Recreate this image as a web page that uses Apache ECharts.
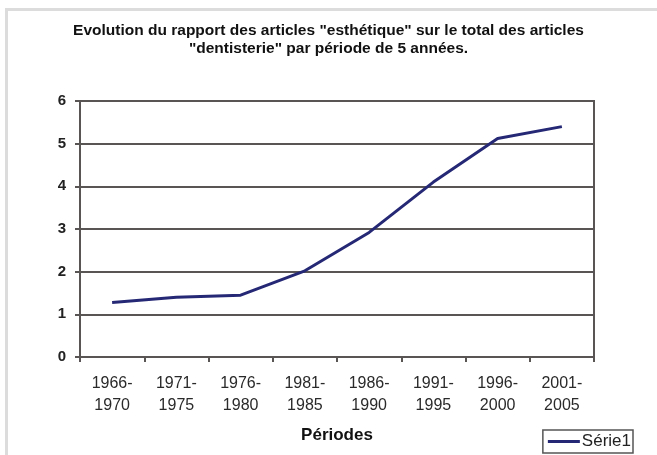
<!DOCTYPE html>
<html>
<head>
<meta charset="utf-8">
<script src="https://cdn.jsdelivr.net/npm/echarts@6/dist/echarts.min.js"></script>
<style>
    html, body { margin: 0; padding: 0; background: #fff; }
    #frame { position: absolute; left: 5px; top: 8px; width: 660px; height: 460px;
             border-left: 3px solid #dcdcdc; border-top: 3px solid #dcdcdc; }
    #chart { position: absolute; left: 0; top: 0; width: 657px; height: 455px; }
</style>
</head>
<body>
<div id="frame"></div>
<div id="chart"></div>
<script>
// périodes de 5 ans
var periodes = ['1966-\n1970', '1971-\n1975', '1976-\n1980', '1981-\n1985',
                '1986-\n1990', '1991-\n1995', '1996-\n2000', '2001-\n2005'];
// rapport esthétique / dentisterie
var serie1 = [1.28, 1.4, 1.45, 2.02, 2.92, 4.1, 5.12, 5.4];
var yTicks = [0, 1, 2, 3, 4, 5, 6];

var chart = echarts.init(document.getElementById('chart'));
chart.setOption({
    animation: false,
    title: {
        left: 'center',
        top: 17,
        text: 'Evolution du rapport des articles "esthétique" sur le total des articles\n"dentisterie" par période de 5 années.',
        textStyle: {
            fontFamily: 'Liberation Sans',
            fontSize: 15.5,
            fontWeight: 'bold',
            color: '#111',
            lineHeight: 18
        }
    },
    legend: {
        right: 24,
        bottom: 2,
        data: ['Série1'],
        icon: 'rect',
        itemWidth: 32,
        itemHeight: 3,
        itemGap: 2,
        padding: [3, 2, 3, 5],
        borderColor: '#555',
        borderWidth: 1.5,
        borderRadius: 0,
        textStyle: { fontFamily: 'Liberation Sans', fontSize: 17, color: '#222', padding: [0, 0, 0, -3] }
    },
    grid: {
        left: 80,
        right: 63,
        top: 101,
        bottom: 98,
        show: true,
        borderColor: '#5a5555',
        borderWidth: 2
    },
    xAxis: {
        type: 'category',
        data: periodes,
        boundaryGap: true,
        name: 'Périodes',
        nameLocation: 'middle',
        nameGap: 70,
        nameTextStyle: { fontFamily: 'Liberation Sans', fontSize: 17, fontWeight: 'bold', color: '#111' },
        axisLine: { lineStyle: { color: '#5a5555', width: 2 } },
        axisTick: { show: true, length: 5, lineStyle: { color: '#5a5555', width: 2 } },
        axisLabel: {
            margin: 16,
            fontFamily: 'Liberation Sans',
            fontSize: 16,
            lineHeight: 22,
            color: '#2a2a2a'
        }
    },
    yAxis: {
        type: 'value',
        min: yTicks[0],
        max: yTicks[yTicks.length - 1],
        interval: 1,
        axisLine: { show: true, lineStyle: { color: '#5a5555', width: 2 } },
        axisTick: { show: true, length: 5, lineStyle: { color: '#5a5555', width: 2 } },
        splitLine: { lineStyle: { color: '#5a5555', width: 2 } },
        axisLabel: {
            margin: 14,
            fontFamily: 'Liberation Sans',
            fontSize: 15,
            fontWeight: 'bold',
            color: '#222'
        }
    },
    series: [{
        name: 'Série1',
        type: 'line',
        data: serie1,
        symbol: 'none',
        lineStyle: { color: '#252875', width: 3 },
        itemStyle: { color: '#252875' }
    }]
});
</script>
</body>
</html>
